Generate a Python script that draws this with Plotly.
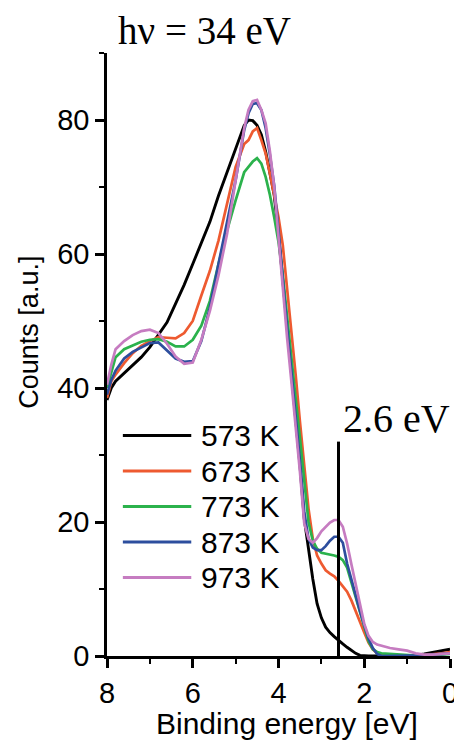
import plotly.graph_objects as go

energy = [8.0, 7.9, 7.8, 7.6, 7.4, 7.2, 7.0, 6.8, 6.6, 6.4, 6.2, 6.0, 5.8, 5.6, 5.4, 5.2, 5.0,
          4.8, 4.7, 4.6, 4.5, 4.4, 4.3, 4.2, 4.1, 4.0, 3.9, 3.8, 3.7, 3.6, 3.5, 3.4, 3.3, 3.2,
          3.1, 3.0, 2.9, 2.8, 2.7, 2.6, 2.5, 2.4, 2.3, 2.2, 2.1, 2.0, 1.9, 1.8, 1.7, 1.6, 1.4,
          1.2, 1.0, 0.8, 0.6, 0.4, 0.2, 0.0]

k573 = [38.2, 40.0, 41.0, 42.2, 43.3, 44.6, 46.1, 47.9, 49.8, 52.6, 55.4, 58.5, 61.8, 64.8, 68.7, 72.2, 76.0,
        79.2, 80.0, 79.9, 79.2, 77.8, 75.3, 72.0, 68.8, 63.0, 56.0, 49.0, 42.5, 36.0, 28.5, 20.5, 16.0, 11.5,
        7.8, 5.7, 4.3, 3.5, 2.9, 2.3, 1.8, 1.3, 0.8, 0.4, 0.1, 0.0, 0.0, 0.0, 0.0, 0.0, 0.0,
        0.0, 0.0, 0.1, 0.3, 0.5, 0.8, 1.0]

k673 = [38.5, 41.0, 42.0, 43.7, 45.2, 46.3, 47.0, 47.6, 47.5, 47.4, 48.2, 50.0, 53.8, 57.5, 62.0, 67.5, 73.0,
        76.4, 77.0, 78.3, 78.8, 77.0, 75.0, 72.0, 68.8, 65.5, 61.3, 55.2, 48.5, 42.0, 35.0, 28.0, 22.0, 17.5,
        15.0, 13.8, 12.8, 12.3, 11.9, 11.2, 10.4, 9.6, 8.3, 6.6, 5.0, 3.5, 2.0, 1.0, 0.4, 0.2, 0.1,
        0.0, 0.0, 0.0, 0.1, 0.2, 0.4, 0.6]

k773 = [40.0, 42.5, 44.6, 45.8, 46.4, 46.9, 47.2, 47.3, 46.9, 46.2, 46.2, 47.2, 49.3, 53.0, 58.5, 63.5, 68.0,
        72.2, 73.0, 73.8, 74.3, 73.5, 71.5, 68.8, 65.5, 61.8, 56.8, 51.0, 44.5, 38.5, 32.5, 26.0, 20.0, 17.2,
        16.0, 15.4, 15.3, 15.1, 15.0, 14.8, 14.3, 13.2, 11.0, 8.6, 6.3, 4.1, 2.2, 1.0, 0.6, 0.4, 0.3,
        0.2, 0.1, 0.0, 0.0, 0.1, 0.2, 0.3]

k873 = [39.0, 41.2, 42.6, 44.4, 45.4, 46.1, 46.7, 46.8, 45.6, 44.4, 43.9, 44.0, 47.0, 52.0, 58.5, 64.8, 71.0,
        78.5, 81.0, 82.4, 82.5, 81.5, 78.8, 74.8, 70.2, 63.5, 56.0, 49.0, 42.5, 36.0, 29.0, 21.5, 17.5, 16.2,
        15.8, 15.8, 16.4, 17.2, 17.8, 17.8, 16.9, 13.8, 11.4, 8.8, 6.7, 4.6, 2.6, 1.2, 0.3, 0.0, 0.0,
        0.0, 0.1, 0.1, 0.1, 0.2, 0.3, 0.4]

k973 = [40.5, 43.5, 45.8, 47.0, 47.9, 48.5, 48.7, 48.2, 46.6, 44.7, 43.6, 43.8, 47.2, 51.5, 56.8, 63.0, 71.0,
        78.8, 81.5, 82.8, 83.0, 81.5, 79.5, 75.3, 70.0, 62.1, 54.5, 47.5, 41.0, 34.5, 27.5, 19.8, 17.5, 16.9,
        17.6, 18.6, 19.3, 19.9, 20.3, 20.3, 19.3, 16.8, 13.7, 10.8, 7.5, 4.8, 3.0, 2.1, 1.7, 1.5, 1.2,
        1.0, 0.8, 0.4, 0.2, 0.2, 0.3, 0.4]

series_names = ["573 K", "673 K", "773 K", "873 K", "973 K"]
series_values = [k573, k673, k773, k873, k973]
series_colors = ["#000000", "#ee5a30", "#2bb24c", "#2d4e9e", "#c67cc1"]

x_ticks = [8, 6, 4, 2, 0]
y_ticks = [0, 20, 40, 60, 80]
marker_energy = 2.6
marker_top = 32
marker_bottom = -2

fig = go.Figure()
for name, vals, col in zip(series_names, series_values, series_colors):
    fig.add_trace(go.Scatter(x=energy, y=vals, mode="lines", name=name,
                             line=dict(color=col, width=2.7 if col != "#000000" else 2.9),
                             showlegend=False))

# vertical marker line at 2.6 eV
fig.add_shape(type="line", xref="x", yref="y", x0=marker_energy, x1=marker_energy,
              y0=marker_bottom, y1=marker_top, line=dict(color="black", width=3), layer="above")

# plot area in page pixels: x 107..453, y 53..656 (page has an 8px body margin)
PX0, PW, PY0, PH = 107, 346, 656, 603

annots = []
leg_y0 = 435.5
leg_dy = 35.5
for i, (name, col) in enumerate(zip(series_names, series_colors)):
    ypx = leg_y0 + leg_dy * i
    yp = (PY0 - ypx) / PH
    fig.add_shape(type="line", xref="paper", yref="paper", x0=(123 - PX0) / PW, x1=(192 - PX0) / PW,
                  y0=yp, y1=yp, line=dict(color=col, width=3))
    annots.append(dict(text=name, xref="paper", yref="paper", x=(200 - PX0) / PW, y=yp,
                       xanchor="left", yanchor="middle", showarrow=False,
                       font=dict(family="Liberation Sans, Arial", size=30, color="black")))

annots.append(dict(text="2.6 eV", xref="x", yref="y", x=1.24, y=35.4, xanchor="center", yanchor="middle",
                   showarrow=False, font=dict(family="Liberation Serif, Times New Roman", size=40, color="black")))
annots.append(dict(text="hν = 34 eV", xref="paper", yref="paper", x=(205 - PX0) / PW, y=(PY0 - 30) / PH,
                   xanchor="center", yanchor="middle", showarrow=False,
                   font=dict(family="Liberation Serif, Times New Roman", size=39, color="black")))
annots.append(dict(text="Counts [a.u.]", xref="paper", yref="paper", x=(28 - PX0) / PW, y=(PY0 - 332) / PH,
                   xanchor="center", yanchor="middle", textangle=-90, showarrow=False,
                   font=dict(family="Liberation Sans, Arial", size=27, color="black")))
annots.append(dict(text="Binding energy [eV]", xref="paper", yref="paper", x=(289 - PX0) / PW, y=(PY0 - 723) / PH,
                   xanchor="center", yanchor="middle", showarrow=False,
                   font=dict(family="Liberation Sans, Arial", size=30, color="black")))

fig.update_layout(
    width=462, height=742,
    margin=dict(l=99, r=17, t=45, b=94),
    paper_bgcolor="white", plot_bgcolor="white",
    annotations=annots,
    xaxis=dict(range=[8, 0], tickvals=x_ticks, ticktext=[str(v) for v in x_ticks],
               showgrid=False, zeroline=False, showline=True, linecolor="black", linewidth=2.5,
               ticks="outside", ticklen=9, tickwidth=2.5, tickcolor="black",
               minor=dict(dtick=1, ticks="outside", ticklen=5, tickwidth=2, tickcolor="black", showgrid=False),
               tickfont=dict(family="Liberation Sans, Arial", size=29, color="black")),
    yaxis=dict(range=[0, 90], tickvals=y_ticks, ticktext=[str(v) for v in y_ticks],
               showgrid=False, zeroline=False, showline=True, linecolor="black", linewidth=2.5,
               ticks="outside", ticklen=9, tickwidth=2.5, tickcolor="black",
               minor=dict(dtick=10, ticks="outside", ticklen=5, tickwidth=2, tickcolor="black", showgrid=False),
               tickfont=dict(family="Liberation Sans, Arial", size=29, color="black")),
)

fig.write_html("out.html")
